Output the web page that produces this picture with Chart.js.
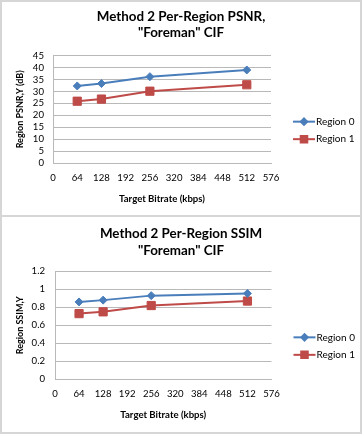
<!DOCTYPE html>
<html><head><meta charset="utf-8">
<script src="https://cdn.jsdelivr.net/npm/chart.js@4/dist/chart.umd.min.js"></script>
<style>
html,body{margin:0;padding:0;background:#fff;width:364px;height:436px;overflow:hidden}
.panel{position:absolute;left:0;width:358px;border:2px solid #d6d6d6;background:#fff}
#p1{top:0;height:213px;border-bottom:none}
#p2{top:215px;height:215px}
canvas{display:block}
</style></head><body>
<div id="p1" class="panel"><canvas id="c1" width="358" height="213"></canvas></div>
<div id="p2" class="panel"><canvas id="c2" width="358" height="215"></canvas></div>
<script>
// ---- data ----
const bitrates = [64, 128, 256, 512];
const psnrRegion0 = [32.3, 33.3, 36.2, 39.0];
const psnrRegion1 = [25.9, 26.8, 30.1, 32.8];
const ssimRegion0 = [0.86, 0.88, 0.93, 0.955];
const ssimRegion1 = [0.73, 0.75, 0.82, 0.87];
const seriesNames = ['Region 0', 'Region 1'];
const xTicks = [0, 64, 128, 192, 256, 320, 384, 448, 512, 576];
const psnrTicks = [0, 5, 10, 15, 20, 25, 30, 35, 40, 45];
const ssimTicks = [0, 0.2, 0.4, 0.6, 0.8, 1, 1.2];
const titlePSNR = ['Method 2 Per-Region PSNR,', '"Foreman" CIF'];
const titleSSIM = ['Method 2 Per-Region SSIM', '"Foreman" CIF'];
const xTitle = 'Target Bitrate (kbps)';
const yTitlePSNR = 'Region PSNR,Y (dB)';
const yTitleSSIM = 'Region SSIM,Y';

const FONT = 'Lato, "Open Sans", sans-serif';
const BLUE = '#4A7EBB', RED = '#BE4B48';
const GRID = '#b9b9b9';

function pts(xs, ys) { return xs.map((x, i) => ({x: x, y: ys[i]})); }

const legendPlugin = {
  id: 'lineLegend',
  afterDraw(chart) {
    const ctx = chart.ctx, ca = chart.chartArea;
    const x0 = ca.right + 22, x1 = ca.right + 44;
    chart.data.datasets.forEach((ds, i) => {
      const y = ca.top + 66 + i * 17.5;
      ctx.save();
      ctx.strokeStyle = ds.borderColor; ctx.lineWidth = 2;
      ctx.beginPath(); ctx.moveTo(x0, y); ctx.lineTo(x1, y); ctx.stroke();
      ctx.fillStyle = ds.pointBackgroundColor; ctx.strokeStyle = ds.pointBorderColor;
      Chart.helpers.drawPoint(ctx, {pointStyle: ds.pointStyle, radius: ds.pointRadius * 0.8, rotation: 0, borderWidth: 1}, (x0 + x1) / 2, y);
      ctx.fillStyle = '#000'; ctx.font = '10px ' + FONT;
      ctx.textBaseline = 'middle'; ctx.textAlign = 'left';
      ctx.fillText(ds.label, x1 + 1, y);
      ctx.restore();
    });
  }
};

function makeChart(id, r0, r1, yTicks, ymax, title, yTitle, cfg) {
  const mk = (label, data, color, style, radius) => ({
    label: label, data: data, borderColor: color, backgroundColor: color,
    pointBackgroundColor: color, pointBorderColor: color, borderWidth: 2, pointBorderWidth: 1,
    pointStyle: style, pointRadius: radius, pointHoverRadius: radius, tension: 0
  });
  return new Chart(document.getElementById(id), {
    type: 'line',
    data: { datasets: [
      mk(seriesNames[0], pts(bitrates, r0), BLUE, 'rectRot', 4),
      mk(seriesNames[1], pts(bitrates, r1), RED, 'rect', 5.8)
    ]},
    options: {
      responsive: false, devicePixelRatio: 1, animation: false,
      layout: { padding: 0 },
      plugins: {
        legend: { display: false }, tooltip: { enabled: false },
        title: { display: true, text: title, color: '#000',
          font: { family: FONT, size: 13.4, weight: 'bold', lineHeight: cfg.titleLH },
          padding: { top: cfg.titlePT, bottom: cfg.titlePB } }
      },
      scales: {
        x: { type: 'linear', min: 0, max: xTicks[xTicks.length - 1],
          afterBuildTicks: s => { s.ticks = xTicks.map(v => ({value: v})); },
          afterFit: s => { s.height = cfg.xH; },
          grid: { display: false, drawTicks: false },
          border: { display: true, color: GRID, width: 1 },
          ticks: { color: '#000', padding: 9, maxRotation: 0, autoSkip: false, font: { family: FONT, size: 9.6 },
            callback: v => String(v) },
          title: { display: true, text: xTitle, color: '#000', font: { family: FONT, size: 9.6, weight: 'bold', lineHeight: 1.2 }, padding: { top: 0, bottom: cfg.xTitlePB } }
        },
        y: { min: 0, max: ymax,
          afterBuildTicks: s => { s.ticks = yTicks.map(v => ({value: v})); },
          afterFit: s => { s.width = cfg.yW; },
          grid: { color: GRID, lineWidth: 1, drawTicks: false },
          border: { display: true, color: GRID, width: 1 },
          ticks: { color: '#000', padding: cfg.yTickPad, autoSkip: false, font: { family: FONT, size: 9.6 },
            callback: v => String(v) },
          title: { display: true, text: yTitle, color: '#000', font: { family: FONT, size: 9, weight: 'bold', lineHeight: 1.2 }, padding: { top: 12.5, bottom: 0 } }
        },
        legendSpace: { type: 'linear', position: 'right', display: true,
          afterFit: s => { s.width = cfg.padRight; },
          grid: { display: false, drawTicks: false }, border: { display: false },
          ticks: { display: false }, title: { display: false } }
      }
    },
    plugins: [legendPlugin]
  });
}

makeChart('c1', psnrRegion0, psnrRegion1, psnrTicks, 45, titlePSNR, yTitlePSNR,
  { padRight: 89, titleLH: 1.2, titlePT: 7, titlePB: 14.5, xH: 52, xTitlePB: 10, yW: 51, yTickPad: 9 });
makeChart('c2', ssimRegion0, ssimRegion1, ssimTicks, 1.2, titleSSIM, yTitleSSIM,
  { padRight: 88.5, titleLH: 1.27, titlePT: 8.2, titlePB: 12.1, xH: 52.7, xTitlePB: 11.3, yW: 53, yTickPad: 10 });
</script>
</body></html>
